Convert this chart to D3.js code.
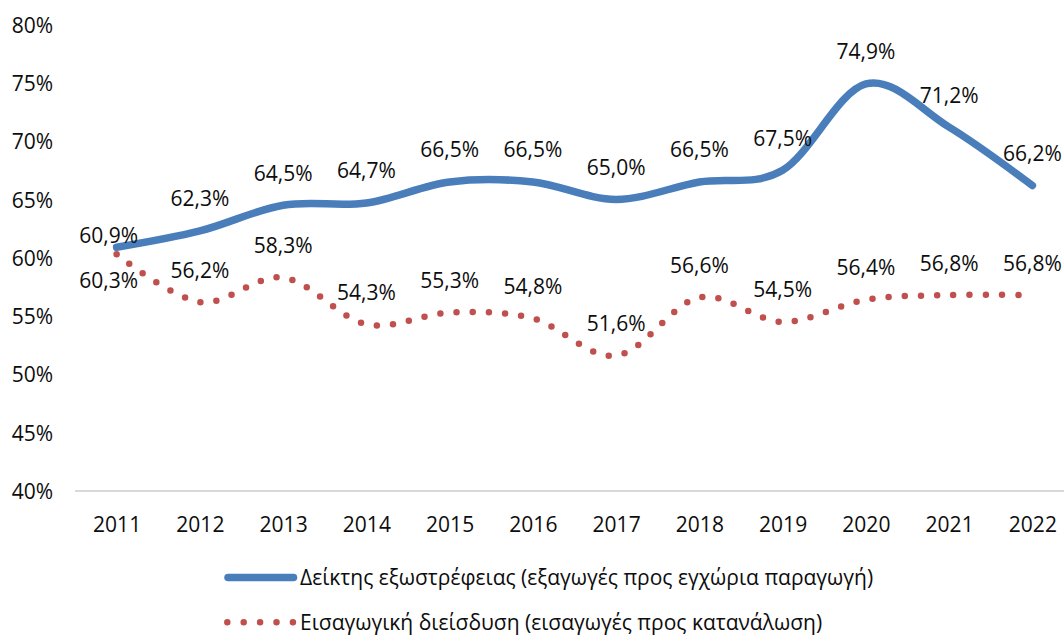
<!DOCTYPE html>
<html>
<head>
<meta charset="utf-8">
<script src="https://cdn.jsdelivr.net/npm/d3@7"></script>
<style>
  html, body { margin: 0; padding: 0; background: #ffffff; }
  svg { display: block; }
  text { font-family: "Open Sans", "Noto Sans", sans-serif; fill: #0d0d0d; }
</style>
</head>
<body>
<svg id="chart" width="1064" height="635"></svg>
<script>
const years = ["2011","2012","2013","2014","2015","2016","2017","2018","2019","2020","2021","2022"];
const exportOrientation = [60.9, 62.3, 64.5, 64.7, 66.5, 66.5, 65.0, 66.5, 67.5, 74.9, 71.2, 66.2];
const importPenetration = [60.3, 56.2, 58.3, 54.3, 55.3, 54.8, 51.6, 56.6, 54.5, 56.4, 56.8, 56.8];
const yTicks = [40, 45, 50, 55, 60, 65, 70, 75, 80];
const seriesNames = [
  "Δείκτης εξωστρέφειας (εξαγωγές προς εγχώρια παραγωγή)",
  "Εισαγωγική διείσδυση (εισαγωγές προς κατανάλωση)"
];

const BLUE = "#4A7EBB", RED = "#C0504D";
const FS = 21;
const svg = d3.select("#chart");
const fmt = v => v.toFixed(1).replace(".", ",") + "%";

const x = d3.scalePoint().domain(years).range([75, 1074]).padding(0.5);
const y = d3.scaleLinear().domain([40, 80]).range([491, 24.5]);

// y axis labels
const yAxis = d3.axisLeft(y).tickValues(yTicks).tickSize(0).tickPadding(0)
  .tickFormat(d => d + "%");
const gy = svg.append("g").attr("transform", "translate(53,0)").call(yAxis);
gy.select(".domain").remove();
gy.selectAll("text").attr("font-size", FS).attr("font-family", "Open Sans").attr("fill", "#0d0d0d").attr("dy", "0.36em");

// x axis
const xAxis = d3.axisBottom(x).tickSize(0).tickPadding(0);
const gx = svg.append("g").attr("transform", `translate(0,${y(40)})`).call(xAxis);
gx.select(".domain").attr("stroke", "#d9d9d9").attr("stroke-width", 2)
  .attr("d", `M75,0H1064`);
gx.selectAll("text").attr("font-size", FS).attr("font-family", "Open Sans").attr("fill", "#0d0d0d")
  .attr("dy", "0").attr("y", 40.5);

const line = d3.line().x((d, i) => x(years[i])).y(d => y(d)).curve(d3.curveCardinal.tension(0));

svg.append("path").datum(exportOrientation).attr("d", line)
  .attr("fill", "none").attr("stroke", BLUE).attr("stroke-width", 7.5).attr("stroke-linecap", "round");

svg.append("path").datum(importPenetration).attr("d", line)
  .attr("fill", "none").attr("stroke", RED).attr("stroke-width", 6.5)
  .attr("stroke-linecap", "round").attr("stroke-dasharray", "0 16.2");

// data labels
function labels(data, firstBelow) {
  svg.append("g").selectAll("text").data(data).join("text")
    .attr("font-size", FS)
    .attr("text-anchor", "middle")
    .attr("x", (d, i) => x(years[i]) - (i === 0 ? 8 : 0))
    .attr("y", (d, i) => {
      if (i === 0) return firstBelow ? y(d) + 34 : y(d) - 4;
      return y(d) - 24.5;
    })
    .text(d => fmt(d));
}
labels(exportOrientation, false);
labels(importPenetration, true);

// legend
const lg = svg.append("g");
lg.append("line").attr("x1", 228).attr("x2", 293.5).attr("y1", 577.5).attr("y2", 577.5)
  .attr("stroke", BLUE).attr("stroke-width", 7.5).attr("stroke-linecap", "round");
lg.append("text").attr("x", 300).attr("y", 585).attr("font-size", FS).text(seriesNames[0]);
lg.append("line").attr("x1", 227.3).attr("x2", 293.3).attr("y1", 622.3).attr("y2", 622.3)
  .attr("stroke", RED).attr("stroke-width", 6.5).attr("stroke-linecap", "round")
  .attr("stroke-dasharray", "0 16.4");
lg.append("text").attr("x", 300).attr("y", 630).attr("font-size", FS).text(seriesNames[1]);
</script>
</body>
</html>
